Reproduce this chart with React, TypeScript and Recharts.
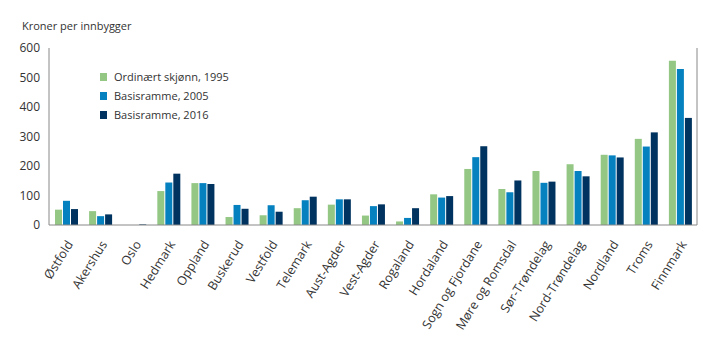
import React from "react";
import { BarChart, Bar, XAxis, YAxis } from "recharts";

document.body.style.margin = "0";

const counties = [
  "Østfold",
  "Akershus",
  "Oslo",
  "Hedmark",
  "Oppland",
  "Buskerud",
  "Vestfold",
  "Telemark",
  "Aust-Agder",
  "Vest-Agder",
  "Rogaland",
  "Hordaland",
  "Sogn og Fjordane",
  "Møre og Romsdal",
  "Sør-Trøndelag",
  "Nord-Trøndelag",
  "Nordland",
  "Troms",
  "Finnmark",
];

const skjonn1995 = [52, 47, 0, 115, 142, 27, 33, 57, 69, 32, 12, 104, 190, 122, 183, 206, 238, 292, 557];
const basis2005 = [82, 30, 0, 144, 142, 68, 67, 84, 87, 64, 24, 93, 230, 111, 143, 183, 236, 266, 529];
const basis2016 = [54, 36, 2, 174, 139, 55, 45, 96, 87, 70, 57, 98, 267, 151, 147, 165, 229, 314, 363];

const yTicks = [0, 100, 200, 300, 400, 500, 600];

const series = [
  { key: "s1995", name: "Ordinært skjønn, 1995", color: "#93c783" },
  { key: "b2005", name: "Basisramme, 2005", color: "#0581c0" },
  { key: "b2016", name: "Basisramme, 2016", color: "#00335f" },
];

const data = counties.map((c, i) => ({
  county: c,
  s1995: skjonn1995[i],
  b2005: basis2005[i],
  b2016: basis2016[i],
}));

const FONT = "'Open Sans', sans-serif";

const CountyTick = (props: any) => {
  const { x, y, payload } = props;
  return (
    <g transform={`translate(${x + 4},${y + 9})`}>
      <text
        textAnchor="end"
        transform="rotate(-58)"
        fontSize={12.5}
        fontFamily={FONT}
        fill="#333"
        dy={4}
      >
        {payload.value}
      </text>
    </g>
  );
};

export default function App() {
  return (
    <div style={{ position: "relative", width: 719, height: 341, background: "#fff" }}>
      <div
        style={{
          position: "absolute",
          left: 22,
          top: 18,
          fontSize: 11,
          fontFamily: FONT,
          color: "#333",
        }}
      >
        Kroner per innbygger
      </div>
      {/* legend sits inside the plot, top left */}
      <div
        style={{
          position: "absolute",
          left: 100,
          top: 67,
          fontFamily: FONT,
          fontSize: 11,
          color: "#333",
          zIndex: 2,
        }}
      >
        {series.map((s) => (
          <div key={s.key} style={{ display: "flex", alignItems: "center", height: 19 }}>
            <div style={{ width: 7, height: 8, background: s.color, marginRight: 7 }} />
            <span>{s.name}</span>
          </div>
        ))}
      </div>
      <BarChart
        width={719}
        height={341}
        data={data}
        margin={{ top: 48, right: 21, bottom: 0, left: 0 }}
        barGap={1}
        barSize={7}
      >
        <XAxis
          dataKey="county"
          interval={0}
          height={116}
          tickLine={false}
          axisLine={{ stroke: "#888" }}
          tick={<CountyTick />}
        />
        <YAxis
          yAxisId="left"
          domain={[0, 600]}
          ticks={yTicks}
          width={49}
          tickLine={false}
          tickSize={0}
          tickMargin={9}
          axisLine={{ stroke: "#888" }}
          tick={{ fontSize: 12, fontFamily: FONT, fill: "#333" }}
        />
        <YAxis
          yAxisId="right"
          orientation="right"
          domain={[0, 600]}
          width={1}
          tick={false}
          tickLine={false}
          axisLine={{ stroke: "#888" }}
        />
        {series.map((s) => (
          <Bar
            key={s.key}
            yAxisId="left"
            dataKey={s.key}
            name={s.name}
            fill={s.color}
            isAnimationActive={false}
          />
        ))}
      </BarChart>
    </div>
  );
}
